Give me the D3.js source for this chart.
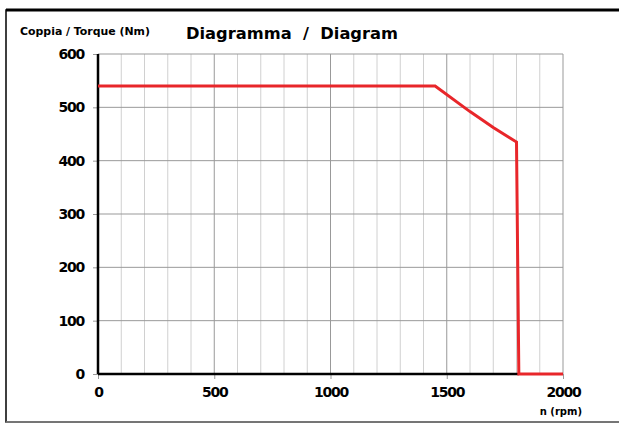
<!DOCTYPE html>
<html>
<head>
<meta charset="utf-8">
<script src="https://cdn.jsdelivr.net/npm/d3@7"></script>
<style>
  body { margin: 0; background: #fff; }
  text { font-family: "DejaVu Sans", sans-serif; font-weight: bold; fill: #000; }
</style>
</head>
<body>
<svg id="svg"></svg>
<script>
const W = 619, H = 424;

const rpm = [0, 1450, 1600, 1700, 1800, 1810, 2000];
const torque = [540, 540, 492, 462, 435, 0, 0];
const xTicks = [0, 500, 1000, 1500, 2000];
const yTicks = [0, 100, 200, 300, 400, 500, 600];

document.addEventListener("DOMContentLoaded", function () {
    const svg = d3.select("#svg").attr("width", W).attr("height", H);

    // outer frame
    svg.append("rect").attr("x", 6).attr("y", 10).attr("width", 640).attr("height", 412)
        .attr("fill", "none").attr("stroke", "#000").attr("stroke-width", 1.5);
    svg.append("line").attr("x1", 6).attr("x2", 619).attr("y1", 10).attr("y2", 10)
        .attr("stroke", "#000").attr("stroke-width", 3);
    svg.append("line").attr("x1", 6).attr("x2", 619).attr("y1", 422).attr("y2", 422)
        .attr("stroke", "#888").attr("stroke-width", 1.5);

    const x = d3.scaleLinear().domain([0, 2000]).range([98, 563]);
    const y = d3.scaleLinear().domain([0, 600]).range([374, 54]);

    // vertical grid every 100 rpm
    const vx = d3.range(100, 2001, 100);
    svg.append("g").selectAll("line").data(vx).join("line")
        .attr("x1", d => x(d)).attr("x2", d => x(d))
        .attr("y1", y(0)).attr("y2", y(600))
        .attr("stroke", d => d % 500 === 0 ? "#999" : "#d0d0d0")
        .attr("stroke-width", 1);

    // horizontal grid every 100 Nm
    svg.append("g").selectAll("line").data(yTicks.slice(1)).join("line")
        .attr("x1", x(0)).attr("x2", x(2000))
        .attr("y1", d => y(d)).attr("y2", d => y(d))
        .attr("stroke", "#999").attr("stroke-width", 1);

    // y axis
    const yAxis = svg.append("g").attr("transform", `translate(${x(0)},0)`)
        .call(d3.axisLeft(y).tickValues(yTicks).tickFormat(d3.format("d")).tickSize(5).tickPadding(9));
    yAxis.select(".domain").remove();
    yAxis.selectAll("line").attr("stroke", "#999");
    yAxis.selectAll("text").style("font-size", "14px").style("letter-spacing", "-1.2px");

    // x axis
    const xAxis = svg.append("g").attr("transform", `translate(0,${y(0)})`)
        .call(d3.axisBottom(x).tickValues(xTicks).tickFormat(d3.format("d")).tickSize(5).tickPadding(8));
    xAxis.select(".domain").remove();
    xAxis.selectAll("line").attr("stroke", "#999");
    xAxis.selectAll("text").style("font-size", "14px").style("letter-spacing", "-1.2px");

    // black axis lines
    svg.append("line").attr("x1", x(0)).attr("x2", x(0)).attr("y1", y(0)).attr("y2", y(600))
        .attr("stroke", "#000").attr("stroke-width", 2.5);
    svg.append("line").attr("x1", x(0)).attr("x2", x(1810)).attr("y1", y(0)).attr("y2", y(0))
        .attr("stroke", "#000").attr("stroke-width", 2.5);

    // torque curve
    const pts = rpm.map((r, i) => ({ r: r, t: torque[i] }));
    svg.append("path")
        .attr("d", d3.line().x(d => x(d.r)).y(d => y(d.t))(pts))
        .attr("fill", "none")
        .attr("stroke", "#e8262a")
        .attr("stroke-width", 3)
        .attr("stroke-linejoin", "miter");

    // titles
    svg.append("text").attr("x", 20).attr("y", 35).style("font-size", "10px")
        .attr("textLength", 130).attr("lengthAdjust", "spacingAndGlyphs")
        .text("Coppia / Torque (Nm)");
    svg.append("text").attr("x", 186).attr("y", 39).style("font-size", "16px")
        .attr("xml:space", "preserve")
        .attr("textLength", 212).attr("lengthAdjust", "spacingAndGlyphs")
        .text("Diagramma  /  Diagram");
    svg.append("text").attr("x", 582).attr("y", 415).attr("text-anchor", "end")
        .style("font-size", "10px").text("n (rpm)");
});
</script>
</body>
</html>
